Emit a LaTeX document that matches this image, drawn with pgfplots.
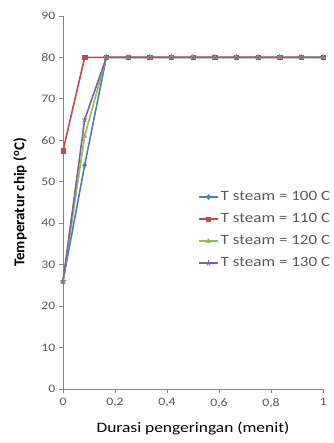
\documentclass[border=0pt]{standalone}
\usepackage{pgfplots}
\pgfplotsset{compat=1.18}
\usepackage{fontspec}
\setmainfont{Carlito}[FakeStretch=1.2]
\newfontfamily\ylabfont{Carlito}
\definecolor{xb}{HTML}{4A7EBB}
\definecolor{xr}{HTML}{BE4B48}
\definecolor{xg}{HTML}{98B954}
\definecolor{xp}{HTML}{7D60A0}
\definecolor{axg}{HTML}{868686}
\definecolor{txt}{HTML}{595959}
\begin{document}
\begin{tikzpicture}
\useasboundingbox (-63pt,-54pt) rectangle (270pt,389pt);
\begin{axis}[
  at={(0pt,0pt)}, anchor=south west,
  scale only axis, width=260pt, height=373pt,
  xmin=0, xmax=1, ymin=0, ymax=90,
  xtick={0,0.2,0.4,0.6,0.8,1}, ytick={0,10,...,90},
  /pgf/number format/use comma,
  /pgf/number format/assume math mode=true,
  axis lines*=left, axis line style={axg,-,line width=0.9pt},
  tick style={axg, line width=0.9pt}, tick align=outside, major tick length=4pt,
  ticklabel style={font=\fontsize{11.5}{13}\selectfont, text=txt},
  xticklabel style={yshift=-2pt},
  xlabel={Durasi pengeringan (menit)},
  xlabel style={font=\fontsize{14.5}{16}\selectfont, text=black, at={(0.5,0)}, anchor=center, yshift=-39pt},
  ylabel={\ylabfont\bfseries Temperatur chip (\textsuperscript{o}C)},
  ylabel style={font=\fontsize{15}{16}\selectfont, text=black, at={(0,0.5)}, anchor=center, yshift=43pt},
  legend style={draw=none, fill=none, at={(0.519,0.535)}, anchor=north west,
    font=\fontsize{14.2}{16}\selectfont, row sep=7pt, inner sep=0pt,
    nodes={inner sep=0pt, text height=11pt, text depth=4pt}, text=txt},
  legend image code/.code={\draw[mark repeat=2,mark phase=2] plot coordinates {(0pt,0pt)(9.5pt,0pt)(19pt,0pt)};},
  legend cell align=left,
  /tikz/every odd column/.append style={column sep=2pt},
  every axis plot/.append style={line width=1.6pt, mark size=2.6pt},
  clip=false,
]
\addplot[xb, mark=diamond*, mark options={line width=0.5pt}] coordinates {(0,26)(0.0833,54)(0.1667,80)(0.25,80)(0.3333,80)(0.4167,80)(0.5,80)(0.5833,80)(0.6667,80)(0.75,80)(0.8333,80)(0.9167,80)(1,80)};
\addlegendentry{T steam = 100 C}
\addplot[xr, mark=square*, mark size=2.2pt, mark options={line width=0.5pt}] coordinates {(0,57.5)(0.0833,80)(0.1667,80)(0.25,80)(0.3333,80)(0.4167,80)(0.5,80)(0.5833,80)(0.6667,80)(0.75,80)(0.8333,80)(0.9167,80)(1,80)};
\addlegendentry{T steam = 110 C}
\addplot[xg, mark=triangle*, mark options={line width=0.5pt}] coordinates {(0,26)(0.0833,61)(0.1667,80)(0.25,80)(0.3333,80)(0.4167,80)(0.5,80)(0.5833,80)(0.6667,80)(0.75,80)(0.8333,80)(0.9167,80)(1,80)};
\addlegendentry{T steam = 120 C}
\addplot[xp, mark=star, mark size=3pt, mark options={line width=0.7pt}] coordinates {(0,26)(0.0833,65)(0.1667,80)(0.25,80)(0.3333,80)(0.4167,80)(0.5,80)(0.5833,80)(0.6667,80)(0.75,80)(0.8333,80)(0.9167,80)(1,80)};
\addlegendentry{T steam = 130 C}
\end{axis}
\end{tikzpicture}
\end{document}
